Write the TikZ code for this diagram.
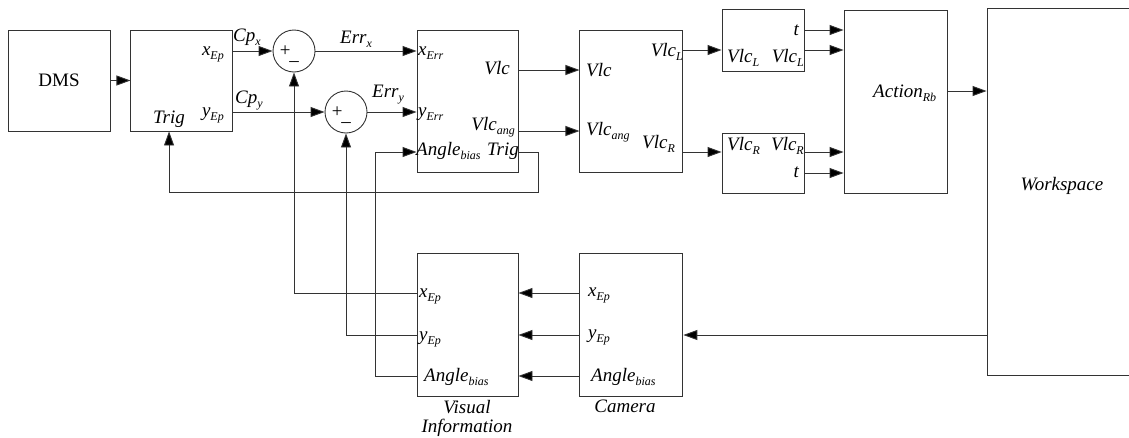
\documentclass[tikz,border=0pt]{standalone}
\usepackage{fontspec}
\setmainfont{Liberation Serif}
\usepackage{tikz}
\usetikzlibrary{arrows.meta, positioning}

\newcommand{\port}[2]{#1\raisebox{-4pt}{\fontsize{12}{12}\selectfont #2}}

\begin{document}
\begin{tikzpicture}[
  x=1pt, y=-1pt,
  box/.style={draw=black!80, line width=0.9pt, inner sep=0pt},
  lbl/.style={font=\fontsize{19}{19}\selectfont\itshape, inner sep=1pt},
  sumnode/.style={draw=black!80, line width=0.9pt, circle, minimum size=42pt, inner sep=0pt},
  arrow/.style={draw=black!80, line width=0.9pt, -{Triangle[length=14pt, width=10pt, fill=black]}}
]
  \useasboundingbox (0,0) rectangle (1129,437);
  \clip (0,0) rectangle (1129,437);

  %% Line levels
  \coordinate (lv-tl) at (0,30);
  \coordinate (lv-l) at (0,50);
  \coordinate (lv-vlc) at (0,70);
  \coordinate (lv-act) at (0,91);
  \coordinate (lv-ang) at (0,131);
  \coordinate (lv-r) at (0,152);
  \coordinate (lv-tr) at (0,173);
  \coordinate (lv-xep) at (0,293);
  \coordinate (lv-yep) at (0,335);
  \coordinate (lv-ab) at (0,376);
  \coordinate (bend-ab) at (375,152);
  \coordinate (bend-fb) at (538,192);

  %% DMS and Trig
  \node[box, minimum width=102pt, minimum height=101pt, font=\fontsize{19}{19}\selectfont] (dms) at (59,80.5) {DMS};
  \node[box, minimum width=102pt, minimum height=101pt, right=20pt of dms] (trig) {};
  \node[lbl, anchor=base east] (trig-x) at (225,55) {\port{x}{Ep}};
  \node[lbl, anchor=base east] (trig-y) at (225,116) {\port{y}{Ep}};
  \node[lbl, anchor=base west] (trig-in) at (152,123) {Trig};

  %% Comparators
  \node[sumnode] (sum1) at (294,51) {};
  \node[lbl, inner sep=0pt] (sum1-p) at (285,51) {+};
  \node[lbl, inner sep=0pt] (sum1-m) at (294,64) {--};
  \node[sumnode] (sum2) at (346,112) {};
  \node[lbl, inner sep=0pt] (sum2-p) at (337,112) {+};
  \node[lbl, inner sep=0pt] (sum2-m) at (346,125) {--};
  \node[lbl, anchor=base west] (cpx) at (232,41) {\port{Cp}{x}};
  \node[lbl, anchor=base west] (cpy) at (234,103) {\port{Cp}{y}};
  \node[lbl, anchor=base west] (errx) at (339,43) {\port{Err}{x}};
  \node[lbl, anchor=base west] (erry) at (371,97) {\port{Err}{y}};

  %% Controller
  \node[box, minimum width=101pt, minimum height=142pt] (ctrl) at (467.5,101) {};
  \node[lbl, anchor=base west] (ctrl-x) at (417,55) {\port{x}{Err}};
  \node[lbl, anchor=base east] (ctrl-vlc) at (511,74) {Vlc};
  \node[lbl, anchor=base west] (ctrl-y) at (417,116) {\port{y}{Err}};
  \node[lbl, anchor=base east] (ctrl-ang) at (516,130) {\port{Vlc}{ang}};
  \node[lbl, anchor=base west] (ctrl-ab) at (415,155) {\port{Angle}{bias}};
  \node[lbl, anchor=base east] (ctrl-trig) at (520,155) {Trig};

  %% Velocity split
  \node[box, minimum width=103pt, minimum height=142pt, right=61pt of ctrl] (conv) {};
  \node[lbl, anchor=base west] (conv-vlc) at (585,76) {Vlc};
  \node[lbl, anchor=base east] (conv-l) at (684,56) {\port{Vlc}{L}};
  \node[lbl, anchor=base west] (conv-ang) at (585,135) {\port{Vlc}{ang}};
  \node[lbl, anchor=base west] (conv-r) at (641,148) {\port{Vlc}{R}};

  %% Wheels
  \node[box, minimum width=82pt, minimum height=62pt] (lw) at (763,40) {};
  \node[lbl, anchor=base east] (lw-t) at (800,35) {t};
  \node[lbl, anchor=base west] (lw-in) at (726,62) {\port{Vlc}{L}};
  \node[lbl, anchor=base east] (lw-out) at (805,62) {\port{Vlc}{L}};
  \node[box, minimum width=82pt, minimum height=60pt] (rw) at (763,163) {};
  \node[lbl, anchor=base west] (rw-in) at (726,150) {\port{Vlc}{R}};
  \node[lbl, anchor=base east] (rw-out) at (805,150) {\port{Vlc}{R}};
  \node[lbl, anchor=base east] (rw-t) at (800,177) {t};

  %% Robot and workspace
  \node[box, minimum width=103pt, minimum height=183pt] (act) at (895.5,101.5) {};
  \node[lbl, anchor=base west] (act-lbl) at (872,97) {\port{Action}{Rb}};
  \node[box, minimum width=153pt, minimum height=367pt] (ws) at (1063.5,191.5) {};
  \node[lbl, anchor=base] (ws-lbl) at (1062,190) {Workspace};

  %% Vision
  \node[box, minimum width=101pt, minimum height=143pt, below=81pt of ctrl] (vis) {};
  \node[lbl, anchor=base west] (vis-x) at (418,297) {\port{x}{Ep}};
  \node[lbl, anchor=base west] (vis-y) at (418,340) {\port{y}{Ep}};
  \node[lbl, anchor=base west] (vis-ab) at (423,381) {\port{Angle}{bias}};
  \node[lbl, align=center, anchor=north] (vis-lbl) at (467,399) {Visual\\Information};
  \node[box, minimum width=103pt, minimum height=143pt, right=61pt of vis] (cam) {};
  \node[lbl, anchor=base west] (cam-x) at (587,296) {\port{x}{Ep}};
  \node[lbl, anchor=base west] (cam-y) at (587,338) {\port{y}{Ep}};
  \node[lbl, anchor=base west] (cam-ab) at (590,381) {\port{Angle}{bias}};
  \node[lbl, anchor=north] (cam-lbl) at (625,399) {Camera};

  %% Arrows
  \draw[arrow] (dms) -- (trig);
  \draw[arrow] (trig.east |- sum1) -- (sum1);
  \draw[arrow] (trig.east |- sum2) -- (sum2);
  \draw[arrow] (sum1) -- (ctrl.west |- sum1);
  \draw[arrow] (sum2) -- (ctrl.west |- sum2);
  \draw[arrow] (ctrl.east |- lv-vlc) -- (conv.west |- lv-vlc);
  \draw[arrow] (ctrl.east |- lv-ang) -- (conv.west |- lv-ang);
  \draw[arrow] (conv.east |- lv-l) -- (lw.west |- lv-l);
  \draw[arrow] (conv.east |- lv-r) -- (rw.west |- lv-r);
  \draw[arrow] (lw.east |- lv-tl) -- (act.west |- lv-tl);
  \draw[arrow] (lw.east |- lv-l) -- (act.west |- lv-l);
  \draw[arrow] (rw.east |- lv-r) -- (act.west |- lv-r);
  \draw[arrow] (rw.east |- lv-tr) -- (act.west |- lv-tr);
  \draw[arrow] (act.east |- lv-act) -- (ws.west |- lv-act);
  \draw[arrow] (ws.west |- lv-yep) -- (cam.east |- lv-yep);
  \foreach \lv in {lv-xep, lv-yep, lv-ab}
    \draw[arrow] (cam.west |- \lv) -- (vis.east |- \lv);

  %% Feedback
  \draw[arrow] (vis.west |- lv-xep) -| (sum1);
  \draw[arrow] (vis.west |- lv-yep) -| (sum2);
  \draw[arrow] (vis.west |- lv-ab) -| (bend-ab) -- (ctrl.west |- bend-ab);
  \draw[arrow] (ctrl.east |- lv-r) -| (bend-fb) -| (trig-in |- trig.south);
\end{tikzpicture}
\end{document}
